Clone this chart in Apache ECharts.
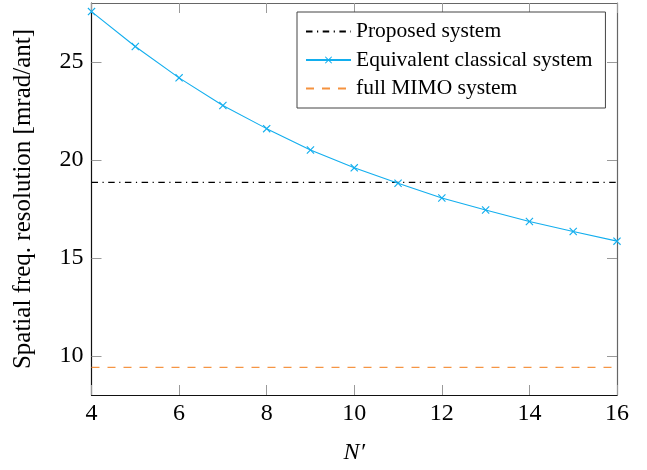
<!DOCTYPE html>
<html>
<head>
<meta charset="utf-8">
<script src="https://cdn.jsdelivr.net/npm/echarts@6/dist/echarts.min.js"></script>
<style>html,body{margin:0;padding:0;background:#fff;}#c{width:647px;height:470px;}</style>
</head>
<body>
<div id="c"></div>
<script>
const nPrime = [4, 5, 6, 7, 8, 9, 10, 11, 12, 13, 14, 15, 16];
const equivalentClassical = [27.56, 25.78, 24.18, 22.77, 21.59, 20.50, 19.59, 18.80, 18.05, 17.44, 16.85, 16.34, 15.85];
const proposedValue = 18.85;
const fullMimoValue = 9.41;
const xRange = [4, 16];
const yRange = [8, 28];
const yTicks = [10, 15, 20, 25];
const seriesNames = ['Proposed system', 'Equivalent classical system', 'full MIMO system'];

const CYAN = '#12aeee';
const ORANGE = '#f5923e';
const FONT = 'Liberation Serif';
const XMARK = 'path://M0,1 L1,0 L5,4 L9,0 L10,1 L6,5 L10,9 L9,10 L5,6 L1,10 L0,9 L4,5 Z';

const chart = echarts.init(document.getElementById('c'), null, {renderer: 'canvas'});

const tickStyle = {show: true, inside: true, length: 10, lineStyle: {color: '#9a9a9a', width: 1}};
const hiddenSym = {color: 'rgba(0,0,0,0)', borderWidth: 0, opacity: 0};

chart.setOption({
  animation: false,
  backgroundColor: '#fff',
  grid: {left: 91.5, top: 3, width: 525.5, height: 394, containLabel: false},
  legend: {
    orient: 'vertical',
    left: 297, top: 12,
    padding: [8.5, 13, 8.5, 8],
    itemWidth: 45, itemHeight: 9, itemGap: 6.5,
    borderColor: '#444', borderWidth: 1, backgroundColor: '#fff',
    textStyle: {fontFamily: FONT, fontSize: 21.5, color: '#000', lineHeight: 22},
    data: [
      {name: seriesNames[0], itemStyle: hiddenSym},
      {name: seriesNames[1]},
      {name: seriesNames[2], itemStyle: hiddenSym}
    ]
  },
  xAxis: [{
    type: 'value', min: xRange[0], max: xRange[1], interval: 2,
    position: 'bottom',
    axisLine: {show: true, lineStyle: {color: '#111', width: 1.2}},
    axisTick: tickStyle,
    splitLine: {show: false},
    axisLabel: {fontFamily: FONT, fontSize: 24, color: '#000', margin: 7},
    name: 'N\u2032', nameLocation: 'middle', nameGap: 46,
    nameTextStyle: {fontFamily: FONT, fontSize: 24, fontStyle: 'italic', color: '#000'}
  }, {
    type: 'value', min: xRange[0], max: xRange[1], interval: 2,
    position: 'top',
    axisLine: {show: true, lineStyle: {color: '#666', width: 1.2}},
    axisTick: tickStyle,
    splitLine: {show: false},
    axisLabel: {show: false}
  }],
  yAxis: [{
    type: 'value', min: yRange[0], max: yRange[1],
    position: 'left',
    axisLine: {show: true, lineStyle: {color: '#111', width: 1.2}},
    axisTick: Object.assign({}, tickStyle, {customValues: yTicks}),
    splitLine: {show: false},
    axisLabel: {fontFamily: FONT, fontSize: 24, color: '#000', margin: 8, customValues: yTicks},
    name: 'Spatial freq. resolution [mrad/ant]', nameLocation: 'middle', nameGap: 56,
    nameRotate: 90,
    nameTextStyle: {fontFamily: FONT, fontSize: 25, color: '#000'}
  }, {
    type: 'value', min: yRange[0], max: yRange[1],
    position: 'right',
    axisLine: {show: true, lineStyle: {color: '#666', width: 1.2}},
    axisTick: Object.assign({}, tickStyle, {customValues: yTicks}),
    splitLine: {show: false},
    axisLabel: {show: false, customValues: yTicks}
  }],
  series: [{
    name: seriesNames[0], type: 'line',
    data: [[xRange[0], proposedValue], [xRange[1], proposedValue]],
    symbol: 'none', color: '#000',
    lineStyle: {color: '#000', width: 1.2, type: [6.5, 4.5, 1.2, 4.5]}
  }, {
    name: seriesNames[1], type: 'line',
    data: nPrime.map((n, i) => [n, equivalentClassical[i]]),
    symbol: XMARK, symbolSize: 8, showAllSymbol: true, color: CYAN,
    itemStyle: {color: CYAN},
    lineStyle: {color: CYAN, width: 1.1}
  }, {
    name: seriesNames[2], type: 'line',
    data: [[xRange[0], fullMimoValue], [xRange[1], fullMimoValue]],
    symbol: 'none', color: ORANGE,
    lineStyle: {color: ORANGE, width: 1.2, type: [8, 8]}
  }]
});
</script>
</body>
</html>
